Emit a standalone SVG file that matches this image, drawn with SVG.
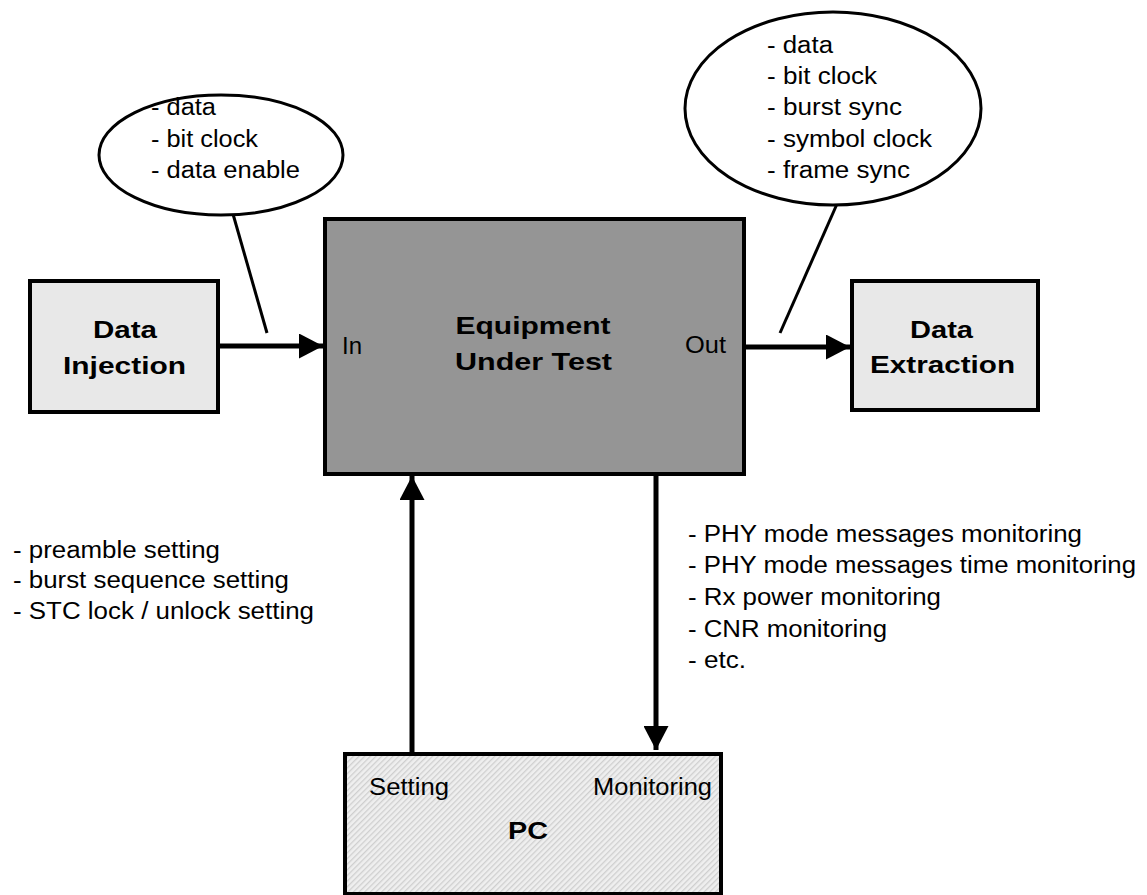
<svg xmlns="http://www.w3.org/2000/svg" width="1147" height="895" viewBox="0 0 1147 895">
  <style>
    .box { stroke: #000; stroke-width: 4; }
    .t { font-family: "Liberation Sans", Arial, sans-serif; font-size: 23.5px; fill: #000; }
    .b { font-family: "Liberation Sans", Arial, sans-serif; font-size: 24px; font-weight: bold; fill: #000; text-anchor: middle; }
    .conn { stroke: #000; stroke-width: 5; fill: none; }
    .call { stroke: #000; stroke-width: 3; fill: none; }
  </style>
  <defs>
    <marker id="arr" markerUnits="userSpaceOnUse" markerWidth="24" markerHeight="25" refX="24" refY="12.5" orient="auto">
      <path d="M0,0 L24,12.5 L0,25 z" fill="#000"/>
    </marker>
    <pattern id="hatch" patternUnits="userSpaceOnUse" width="4" height="4" patternTransform="rotate(45)">
      <rect width="4" height="4" fill="#efefef"/>
      <rect width="1.3" height="4" fill="#cfcfcf"/>
    </pattern>
  </defs>
  <rect width="1147" height="895" fill="#fff"/>

  <g id="connectors">
    <line class="conn" x1="220" y1="346" x2="323" y2="346" marker-end="url(#arr)"/>
    <line class="conn" x1="746" y1="347" x2="850" y2="347" marker-end="url(#arr)"/>
    <line class="conn" x1="412" y1="752" x2="412" y2="476" marker-end="url(#arr)"/>
    <line class="conn" x1="656" y1="476" x2="656" y2="750" marker-end="url(#arr)"/>
    <line class="call" x1="233" y1="214" x2="267" y2="333"/>
    <line class="call" x1="837" y1="204" x2="780" y2="333"/>
  </g>

  <g id="callout-in">
    <ellipse cx="221" cy="155" rx="122" ry="60" fill="#fff" stroke="#000" stroke-width="3"/>
    <text class="t" x="151" y="115" textLength="65" lengthAdjust="spacingAndGlyphs">- data</text>
    <text class="t" x="151" y="147" textLength="107" lengthAdjust="spacingAndGlyphs">- bit clock</text>
    <text class="t" x="151" y="178" textLength="149" lengthAdjust="spacingAndGlyphs">- data enable</text>
  </g>

  <g id="callout-out">
    <ellipse cx="833" cy="108.5" rx="148" ry="96.5" fill="#fff" stroke="#000" stroke-width="3"/>
    <text class="t" x="767" y="53" textLength="66" lengthAdjust="spacingAndGlyphs">- data</text>
    <text class="t" x="767" y="84" textLength="110" lengthAdjust="spacingAndGlyphs">- bit clock</text>
    <text class="t" x="767" y="115" textLength="135" lengthAdjust="spacingAndGlyphs">- burst sync</text>
    <text class="t" x="767" y="147" textLength="165" lengthAdjust="spacingAndGlyphs">- symbol clock</text>
    <text class="t" x="767" y="178" textLength="143" lengthAdjust="spacingAndGlyphs">- frame sync</text>
  </g>

  <g id="data-injection">
    <rect class="box" x="30" y="281" width="188" height="131" fill="#e8e8e8"/>
    <text class="b" x="125" y="338" textLength="64" lengthAdjust="spacingAndGlyphs">Data</text>
    <text class="b" x="124.5" y="374" textLength="123" lengthAdjust="spacingAndGlyphs">Injection</text>
  </g>

  <g id="eut">
    <rect class="box" x="325" y="219" width="419" height="255" fill="#959595"/>
    <text class="b" x="533" y="333.5" textLength="155" lengthAdjust="spacingAndGlyphs">Equipment</text>
    <text class="b" x="533.5" y="369.5" textLength="157" lengthAdjust="spacingAndGlyphs">Under Test</text>
    <text class="t" x="342" y="354" textLength="20" lengthAdjust="spacingAndGlyphs">In</text>
    <text class="t" x="685" y="353" textLength="41" lengthAdjust="spacingAndGlyphs">Out</text>
  </g>

  <g id="data-extraction">
    <rect class="box" x="852" y="281" width="186" height="129" fill="#e8e8e8"/>
    <text class="b" x="941.5" y="338" textLength="63" lengthAdjust="spacingAndGlyphs">Data</text>
    <text class="b" x="942.5" y="373" textLength="145" lengthAdjust="spacingAndGlyphs">Extraction</text>
  </g>

  <g id="pc">
    <rect class="box" x="345" y="754" width="376" height="140" fill="url(#hatch)"/>
    <text class="t" x="369" y="795" textLength="80" lengthAdjust="spacingAndGlyphs">Setting</text>
    <text class="t" x="593" y="795" textLength="119" lengthAdjust="spacingAndGlyphs">Monitoring</text>
    <text class="b" x="528" y="839" textLength="40" lengthAdjust="spacingAndGlyphs">PC</text>
  </g>

  <g id="setting-list">
    <text class="t" x="13" y="558" textLength="207" lengthAdjust="spacingAndGlyphs">- preamble setting</text>
    <text class="t" x="13" y="588" textLength="276" lengthAdjust="spacingAndGlyphs">- burst sequence setting</text>
    <text class="t" x="13" y="619" textLength="301" lengthAdjust="spacingAndGlyphs">- STC lock / unlock setting</text>
  </g>

  <g id="monitoring-list">
    <text class="t" x="688" y="542" textLength="394" lengthAdjust="spacingAndGlyphs">- PHY mode messages monitoring</text>
    <text class="t" x="688" y="573" textLength="448" lengthAdjust="spacingAndGlyphs">- PHY mode messages time monitoring</text>
    <text class="t" x="688" y="605" textLength="253" lengthAdjust="spacingAndGlyphs">- Rx power monitoring</text>
    <text class="t" x="688" y="637" textLength="199" lengthAdjust="spacingAndGlyphs">- CNR monitoring</text>
    <text class="t" x="688" y="668" textLength="58" lengthAdjust="spacingAndGlyphs">- etc.</text>
  </g>
</svg>
